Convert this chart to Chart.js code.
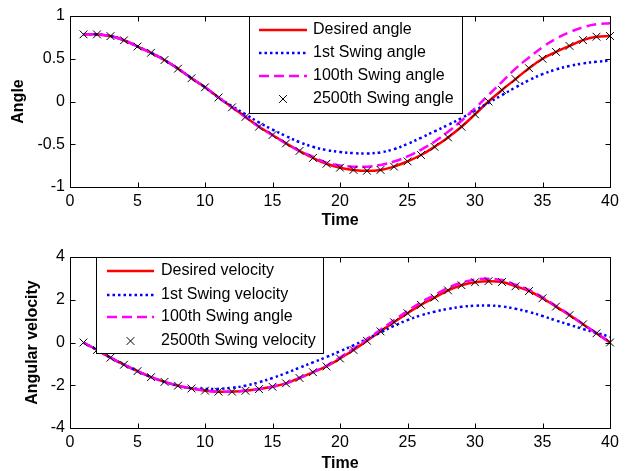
<!DOCTYPE html>
<html><head><meta charset="utf-8">
<script src="https://cdn.jsdelivr.net/npm/chart.js@4.4.0/dist/chart.umd.min.js"></script>
<style>
html,body{margin:0;padding:0;background:#fff;}
#w1{position:absolute;left:0;top:0;width:630px;height:235px;}
#w2{position:absolute;left:0;top:235px;width:630px;height:236px;}
</style></head><body>
<div id="w1"><canvas id="c1"></canvas></div>
<div id="w2"><canvas id="c2"></canvas></div>
<script>
// ---------- data ----------
const time = [1,2,3,4,5,6,7,8,9,10,11,12,13,14,15,16,17,18,19,20,21,22,23,24,25,26,27,28,29,30,31,32,33,34,35,36,37,38,39,40];

const angleLabels = ['Desired angle','1st Swing angle','100th Swing angle','2500th Swing angle'];
const desiredAngle = [0.785,0.785,0.765,0.716,0.643,0.570,0.485,0.384,0.272,0.166,0.047,-0.068,-0.180,-0.295,-0.392,-0.490,-0.578,-0.660,-0.728,-0.774,-0.800,-0.810,-0.800,-0.762,-0.700,-0.626,-0.530,-0.420,-0.295,-0.150,0.000,0.135,0.262,0.390,0.500,0.580,0.650,0.718,0.758,0.766];
const firstAngle = [0.785,0.785,0.765,0.716,0.643,0.570,0.485,0.384,0.272,0.166,0.047,-0.055,-0.150,-0.245,-0.328,-0.405,-0.475,-0.530,-0.568,-0.590,-0.604,-0.608,-0.595,-0.557,-0.497,-0.425,-0.350,-0.275,-0.195,-0.105,-0.015,0.075,0.165,0.250,0.320,0.375,0.415,0.445,0.465,0.478];
const hundredthAngle = [0.785,0.785,0.765,0.716,0.643,0.570,0.485,0.384,0.272,0.166,0.047,-0.068,-0.180,-0.295,-0.392,-0.490,-0.578,-0.645,-0.715,-0.748,-0.762,-0.762,-0.742,-0.702,-0.643,-0.565,-0.470,-0.355,-0.225,-0.080,0.075,0.230,0.385,0.515,0.635,0.735,0.810,0.868,0.903,0.915];
const lastAngle = [0.785,0.785,0.765,0.716,0.643,0.570,0.485,0.384,0.272,0.166,0.047,-0.068,-0.180,-0.295,-0.392,-0.490,-0.578,-0.660,-0.728,-0.774,-0.800,-0.810,-0.800,-0.762,-0.700,-0.626,-0.530,-0.420,-0.295,-0.150,0.000,0.135,0.262,0.390,0.500,0.580,0.650,0.718,0.758,0.766];

const velLabels = ['Desired velocity','1st Swing velocity','100th Swing angle','2500th Swing velocity'];
const desiredVel = [0.00,-0.35,-0.71,-1.04,-1.34,-1.62,-1.84,-2.02,-2.15,-2.25,-2.30,-2.30,-2.26,-2.18,-2.07,-1.91,-1.66,-1.39,-1.12,-0.75,-0.35,0.08,0.52,0.95,1.37,1.76,2.10,2.44,2.68,2.82,2.87,2.83,2.63,2.41,2.07,1.68,1.28,0.85,0.43,0.00];
const firstVel = [0.00,-0.35,-0.71,-1.04,-1.34,-1.62,-1.84,-2.02,-2.14,-2.17,-2.17,-2.12,-2.02,-1.86,-1.66,-1.43,-1.18,-0.93,-0.68,-0.41,-0.13,0.17,0.47,0.78,1.05,1.27,1.44,1.57,1.67,1.72,1.73,1.69,1.58,1.43,1.24,1.03,0.83,0.63,0.45,0.27];
const hundredthVel = [0.00,-0.35,-0.71,-1.04,-1.34,-1.62,-1.84,-2.02,-2.15,-2.25,-2.30,-2.30,-2.26,-2.18,-2.07,-1.91,-1.66,-1.39,-1.09,-0.70,-0.29,0.15,0.60,1.04,1.47,1.88,2.22,2.56,2.80,2.94,2.98,2.92,2.70,2.46,2.11,1.71,1.30,0.86,0.43,0.00];
const lastVel = [0.00,-0.35,-0.71,-1.04,-1.34,-1.62,-1.84,-2.02,-2.15,-2.25,-2.30,-2.30,-2.26,-2.18,-2.07,-1.91,-1.66,-1.39,-1.12,-0.75,-0.35,0.08,0.52,0.95,1.37,1.76,2.10,2.44,2.68,2.82,2.87,2.83,2.63,2.41,2.07,1.68,1.28,0.85,0.43,0.00];

const xTicks = [0,5,10,15,20,25,30,35,40];
const angleTicks = [-1,-0.5,0,0.5,1];
const velTicks = [-4,-2,0,2,4];

// ---------- helpers ----------
const FONT = '"Liberation Sans", Arial, Helvetica, sans-serif';
Chart.defaults.color = '#000';
Chart.defaults.font.family = FONT;
Chart.defaults.font.size = 16;

const pts = arr => arr.map((v,i)=>({x:time[i], y:v}));

const framePlugin = {
  id:'frame',
  afterDraw(chart){
    const {ctx, chartArea:a, scales} = chart;
    ctx.save();
    ctx.strokeStyle='#000'; ctx.lineWidth=1;
    ctx.beginPath();
    const L=Math.round(a.left)+0.5, R=Math.round(a.right)+0.5, T=Math.round(a.top)+0.5, B=Math.round(a.bottom)+0.5;
    ctx.rect(L,T,R-L,B-T);
    const tl=5;
    scales.x.ticks.forEach(t=>{
      const x=Math.round(scales.x.getPixelForValue(t.value))+0.5;
      ctx.moveTo(x,B); ctx.lineTo(x,B-tl);
      ctx.moveTo(x,T); ctx.lineTo(x,T+tl);
    });
    scales.y.ticks.forEach(t=>{
      const y=Math.round(scales.y.getPixelForValue(t.value))+0.5;
      ctx.moveTo(L,y); ctx.lineTo(L+tl,y);
      ctx.moveTo(R,y); ctx.lineTo(R-tl,y);
    });
    ctx.stroke();
    // legend box
    const o = chart.options.plugins.boxLegend;
    ctx.fillStyle='#fff';
    ctx.fillRect(o.x,o.y,o.w,o.h);
    ctx.strokeRect(o.x+0.5,o.y+0.5,o.w,o.h);
    ctx.font = '16px '+FONT;
    ctx.textBaseline='middle'; ctx.textAlign='left';
    chart.data.datasets.forEach((ds,i)=>{
      const y=o.rows[i];
      ctx.save();
      if (ds.showLine===false){
        ctx.strokeStyle=ds.borderColor; ctx.lineWidth=ds.borderWidth;
        Chart.helpers.drawPoint(ctx,{pointStyle:ds.pointStyle,radius:ds.pointRadius,borderWidth:ds.borderWidth,rotation:0},(o.x1+o.x2)/2,y);
      } else {
        ctx.strokeStyle=ds.borderColor; ctx.lineWidth=ds.borderWidth;
        ctx.setLineDash(ds.borderDash||[]);
        ctx.beginPath(); ctx.moveTo(o.x1,y); ctx.lineTo(o.x2,y); ctx.stroke();
      }
      ctx.restore();
      ctx.fillStyle='#000';
      ctx.fillText(ds.label,o.tx,y);
    });
    ctx.restore();
  }
};

function makeChart(id, labels, series, yTicks, yTitle, yTitlePad, top, xHeight, xTitlePad, legend){
  const [d,f,h,l]=series;
  return new Chart(document.getElementById(id),{
    type:'line',
    data:{datasets:[
      {label:labels[0],data:pts(d),borderColor:'#ff0000',borderWidth:2.5,pointRadius:0,tension:0.4,order:4},
      {label:labels[1],data:pts(f),borderColor:'#0000ff',borderWidth:2.5,borderDash:[2.5,3],pointRadius:0,tension:0.4,order:3},
      {label:labels[2],data:pts(h),borderColor:'#ff00ff',borderWidth:2.5,borderDash:[10,5],pointRadius:0,tension:0.4,order:2},
      {label:labels[3],data:pts(l),showLine:false,pointStyle:'crossRot',pointRadius:5.5,borderColor:'#000',borderWidth:1,order:1,clip:false}
    ]},
    options:{
      responsive:true,maintainAspectRatio:false,animation:false,devicePixelRatio:1,
      layout:{padding:{top:top,right:20,left:0,bottom:0}},
      plugins:{legend:{display:false},tooltip:{enabled:false},boxLegend:legend},
      scales:{
        x:{type:'linear',min:0,max:40,
           afterBuildTicks:s=>{s.ticks=xTicks.map(v=>({value:v}));},
           ticks:{padding:5,font:{size:16},callback:v=>String(v)},
           grid:{display:false,drawTicks:false},border:{display:false},
           title:{display:true,text:'Time',font:{size:16,weight:'bold'},padding:{top:0,bottom:xTitlePad}},
           afterFit:s=>{s.height=xHeight;}},
        y:{type:'linear',min:yTicks[0],max:yTicks[yTicks.length-1],
           afterBuildTicks:s=>{s.ticks=yTicks.slice().map(v=>({value:v}));},
           ticks:{padding:5,font:{size:16},callback:v=>String(v)},
           grid:{display:false,drawTicks:false},border:{display:false},
           title:{display:true,text:yTitle,font:{size:16,weight:'bold'},padding:{top:yTitlePad,bottom:0}},
           afterFit:s=>{s.width=70;}}
      }
    },
    plugins:[framePlugin]
  });
}

makeChart('c1',angleLabels,[desiredAngle,firstAngle,hundredthAngle,lastAngle],angleTicks,'Angle',9.4,16,48,4.4,
  {x:249,y:16,w:213,h:97,rows:[30,53,76,99],x1:259,x2:307,tx:313});
makeChart('c2',velLabels,[desiredVel,firstVel,hundredthVel,lastVel],velTicks,'Angular velocity',23.4,22,43,-2,
  {x:96,y:22,w:227,h:96,rows:[36,60,82,106],x1:107,x2:154,tx:161});
</script>
</body></html>
